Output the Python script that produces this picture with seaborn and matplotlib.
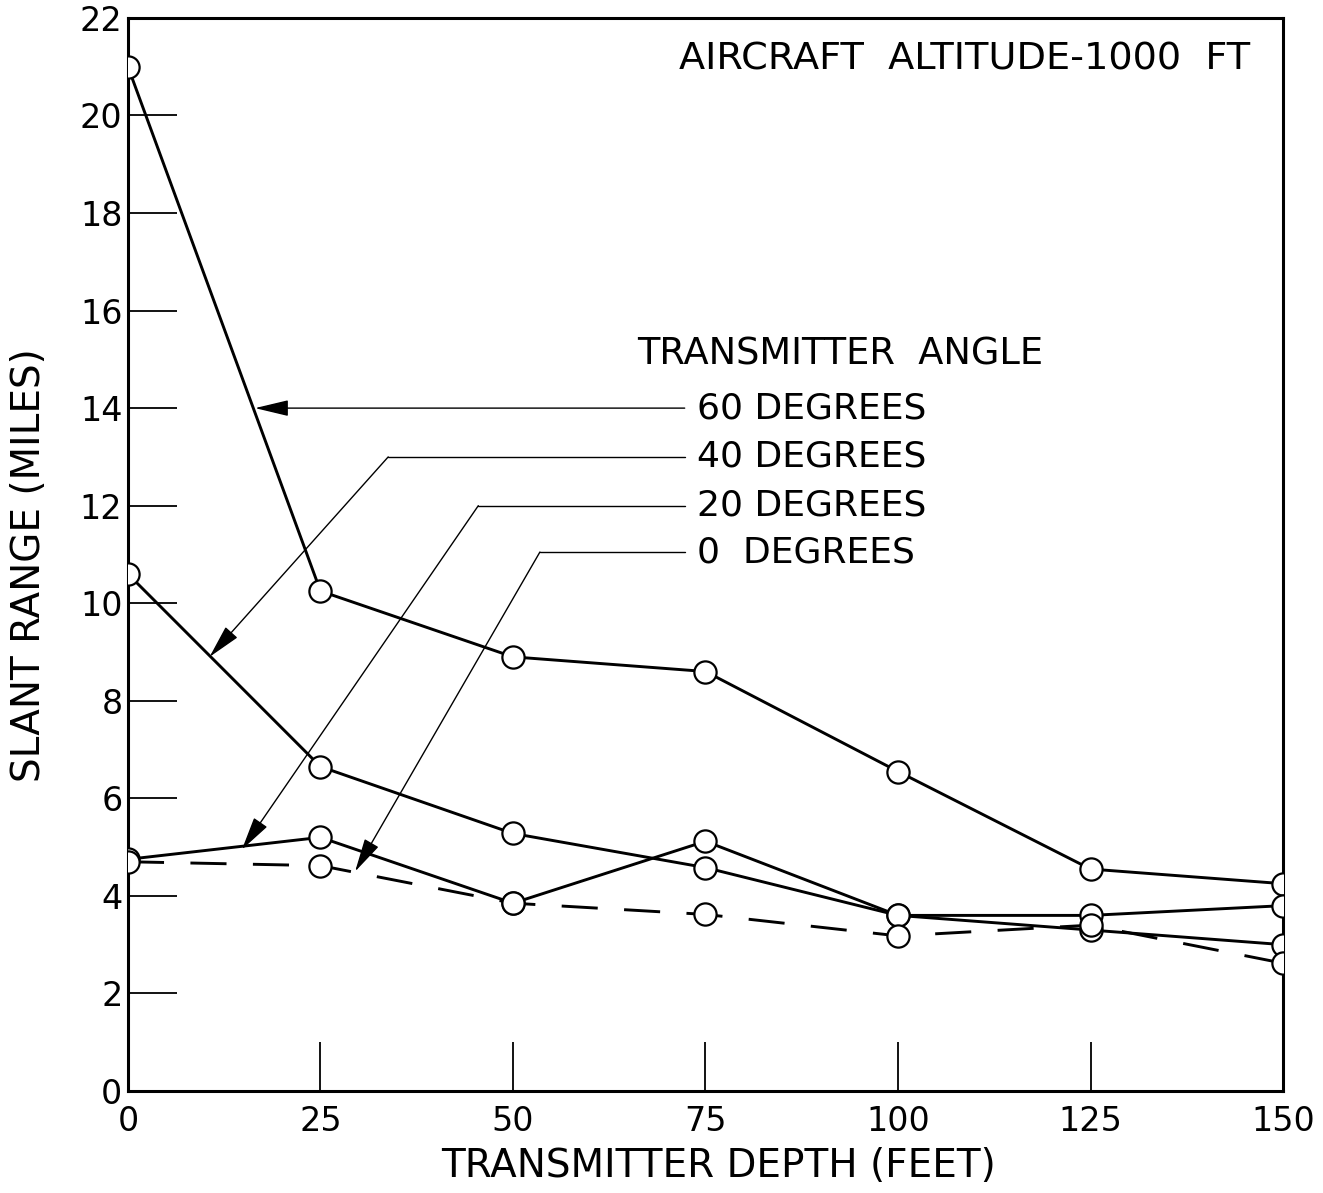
import matplotlib
matplotlib.use("Agg")
import pandas as pd
import matplotlib.pyplot as plt
import seaborn as sns

# values
depth = [0, 25, 50, 75, 100, 125, 150]
range_60 = [21.0, 10.25, 8.9, 8.6, 6.55, 4.55, 4.25]
range_40 = [10.6, 6.65, 5.28, 4.58, 3.6, 3.3, 3.0]
range_20 = [4.75, 5.2, 3.85, 5.12, 3.6, 3.6, 3.8]
range_0 = [4.7, 4.62, 3.85, 3.62, 3.18, 3.4, 2.62]
angle_labels = ["60 DEGREES", "40 DEGREES", "20 DEGREES", "0  DEGREES"]

x_ticks = [0, 25, 50, 75, 100, 125, 150]
y_ticks = [0, 2, 4, 6, 8, 10, 12, 14, 16, 18, 20, 22]

series = [range_60, range_40, range_20, range_0]
df = pd.concat(
    [pd.DataFrame({"depth": depth, "range": vals, "angle": lab})
     for vals, lab in zip(series, angle_labels)],
    ignore_index=True,
)

sns.set_style("white")
plt.rcParams["font.family"] = ["DejaVu Sans"]
plt.rcParams["text.color"] = "black"
plt.rcParams["axes.labelcolor"] = "black"
plt.rcParams["xtick.color"] = "black"
plt.rcParams["ytick.color"] = "black"
plt.rcParams["lines.scale_dashes"] = False

fig = plt.figure(figsize=(13.23, 11.93), dpi=100)
ax = fig.add_axes([0.0967, 0.0855, 0.8731, 0.8995])

for lab in angle_labels:
    sub = df[df["angle"] == lab]
    ls = (0, (26, 19)) if lab.startswith("0 ") else "-"
    sns.lineplot(
        data=sub, x="depth", y="range", ax=ax, color="black",
        linewidth=2.1, linestyle=ls, marker="o", markersize=16,
        markerfacecolor="white", markeredgecolor="black",
        markeredgewidth=1.6, legend=False, zorder=3,
    )

ax.set_xlim(0, 150)
ax.set_ylim(0, 22)
ax.set_xticks(x_ticks)
ax.set_yticks(y_ticks)
ax.set_xticklabels([str(t) for t in x_ticks], fontsize=24)
ax.set_yticklabels([str(t) for t in y_ticks], fontsize=24)
ax.tick_params(axis="both", direction="in", length=35, width=1.3,
               color="black", bottom=True, left=True)
ax.tick_params(axis="x", pad=10)
ax.tick_params(axis="y", pad=4)
for side in ax.spines.values():
    side.set_color("black")
    side.set_linewidth(2.2)

ax.set_xlabel("TRANSMITTER DEPTH (FEET)", fontsize=28)
ax.set_ylabel("SLANT RANGE (MILES)", fontsize=28)
ax.xaxis.set_label_coords(0.511, -0.052)
ax.yaxis.set_label_coords(-0.069, 0.49)

# annotations
ax.text(145.7, 21.15, "AIRCRAFT  ALTITUDE-1000  FT", fontsize=27.5,
        ha="right", va="center")
ax.text(66.1, 15.1, "TRANSMITTER  ANGLE", fontsize=26.5, ha="left", va="center")

arrow = dict(arrowstyle="-|>,head_length=2.1,head_width=0.5", color="black",
             lw=1.0, shrinkA=0, shrinkB=0, mutation_scale=10)
text_x = 73.9
line_start = 72.3
leaders = [
    # (label y, corner x, tip x, tip y)
    (14.0, None, 16.5, 14.0),
    (13.0, 33.8, 10.6, 8.9),
    (12.0, 45.5, 14.8, 4.95),
    (11.05, 53.5, 29.5, 4.5),
]
for lab, (ly, cx, tx, ty) in zip(angle_labels, leaders):
    ax.text(text_x, ly, lab, fontsize=26, ha="left", va="center")
    if cx is None:
        ax.annotate("", xy=(tx, ty), xytext=(line_start, ly), arrowprops=arrow)
    else:
        ax.plot([line_start, cx], [ly, ly], color="black", lw=1.0)
        ax.annotate("", xy=(tx, ty), xytext=(cx, ly), arrowprops=arrow)

fig.savefig("out.png", dpi=100)
